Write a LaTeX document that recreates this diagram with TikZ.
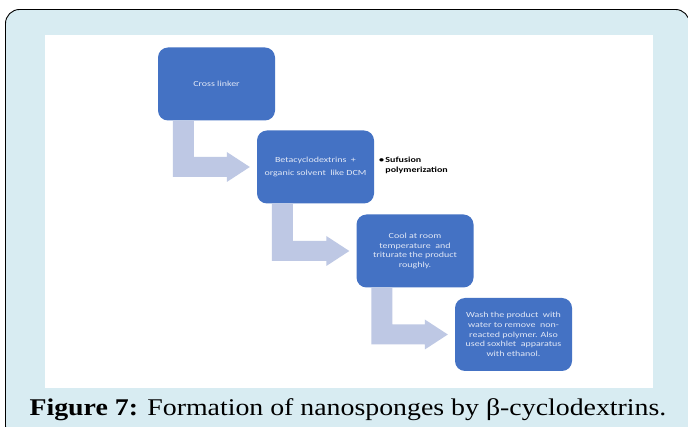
\documentclass[tikz,border=0pt]{standalone}
\usepackage{fontspec}
\setmainfont{Liberation Serif}
\newfontfamily\boxfont[FakeStretch=1.28]{Carlito}
\newfontfamily\capfont[FakeStretch=1.16]{Liberation Serif}
\usetikzlibrary{calc}
\definecolor{framebg}{RGB}{216,236,242}
\definecolor{boxblue}{RGB}{68,114,196}
\definecolor{arrowfill}{RGB}{190,200,228}
\definecolor{boxtext}{RGB}{226,232,246}
\begin{document}
\begin{tikzpicture}[x=1pt,y=-1pt,
  stepbox/.style={fill=boxblue, rounded corners=10pt, minimum width=117pt, minimum height=73pt,
    inner sep=2pt, text=boxtext, font=\boxfont\fontsize{7.8}{9.8}\selectfont, align=center},
  bent/.style={fill=arrowfill},
  note/.style={font=\boxfont\bfseries\fontsize{7.8}{10}\selectfont, align=left, anchor=north west, inner sep=0pt},
  ]
\useasboundingbox (0,0) rectangle (688,427);
\clip (0,0) rectangle (688,427);
\draw[fill=framebg, line width=0.9pt, rounded corners=14pt] (5.5,9.5) rectangle (689.5,440);
\fill[white] (45,35) rectangle (653,388);

\node[stepbox] (b1) at (216.5,84) {Cross linker};
\node[stepbox] (b2) at (315.5,167) {Betacyclodextrins \ +\\[4pt] organic solvent \ like DCM};
\node[stepbox] (b3) at (415,251) {Cool at room\\ temperature \ and\\ triturate the product\\ roughly.};
\node[stepbox] (b4) at (513.5,334.5) {Wash the product \ with\\ water to remove \ non-\\ reacted polymer. Also\\ used soxhlet \ apparatus\\ with ethanol.};

\node[note] (n2) at (379,157) {\textbullet\,Sufusion\\ \hphantom{\textbullet\,}polymerization};

\foreach \a/\b in {b1/b2, b2/b3, b3/b4}{
  \fill[bent] let \p1=(\a.south west), \p2=(\b.west) in
    (\x1+15pt,\y1) -- (\x1+36pt,\y1) -- (\x1+36pt,\y2+10pt) -- (\x2-30pt,\y2+10pt)
    -- (\x2-30pt,\y2+15pt) -- (\x2-7pt,\y2) -- (\x2-30pt,\y2-15pt) -- (\x2-30pt,\y2-10pt)
    -- (\x1+15pt,\y2-10pt) -- cycle;
}

\node[anchor=base, inner sep=0pt] (cap) at (348,415) {\capfont\fontsize{24}{26}\selectfont\textbf{Figure 7:} Formation of nanosponges by β-cyclodextrins.};
\end{tikzpicture}
\end{document}
